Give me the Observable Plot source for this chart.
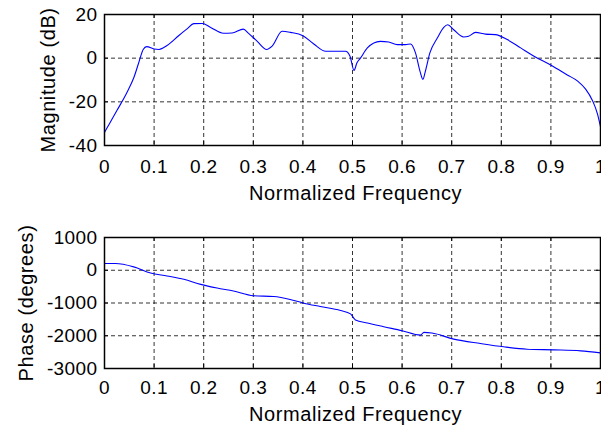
<!DOCTYPE html>
<html>
<head>
<meta charset="utf-8">
<script src="https://cdn.jsdelivr.net/npm/d3@7"></script>
<script src="https://cdn.jsdelivr.net/npm/@observablehq/plot@0.6"></script>
<style>
  html, body { margin: 0; padding: 0; background: white; }
  #chart { width: 601px; height: 430px; overflow: hidden; background: white; }
  #chart svg { display: block; }
  #chart svg text { letter-spacing: 0.4px; }
  #chart svg text.lbl { letter-spacing: 0.6px; }
</style>
</head>
<body>
<div id="chart"></div>
<script>
// ---- data ----
const xTicks = [0, 0.1, 0.2, 0.3, 0.4, 0.5, 0.6, 0.7, 0.8, 0.9, 1];
const xTickLabels = ["0", "0.1", "0.2", "0.3", "0.4", "0.5", "0.6", "0.7", "0.8", "0.9", "1"];
const magTicks = [-40, -20, 0, 20];
const magTickLabels = ["-40", "-20", "0", "20"];
const phaseTicks = [-3000, -2000, -1000, 0, 1000];
const phaseTickLabels = ["-3000", "-2000", "-1000", "0", "1000"];
const xLabel = "Normalized Frequency";
const magLabel = "Magnitude (dB)";
const phaseLabel = "Phase (degrees)";

const magFreq = [0, 0.01, 0.025, 0.045, 0.059, 0.069, 0.078, 0.085, 0.1, 0.11, 0.126, 0.15, 0.167, 0.18, 0.197, 0.214, 0.24, 0.257, 0.28, 0.29, 0.308, 0.327, 0.338, 0.358, 0.375, 0.4, 0.422, 0.446, 0.486, 0.495, 0.503, 0.509, 0.516, 0.53, 0.556, 0.573, 0.59, 0.607, 0.617, 0.627, 0.636, 0.642, 0.647, 0.656, 0.671, 0.684, 0.692, 0.704, 0.724, 0.734, 0.748, 0.768, 0.788, 0.812, 0.839, 0.866, 0.903, 0.933, 0.954, 0.97, 0.984, 0.994, 1.0];
const magDb = [-34, -30, -24, -15.8, -9, -2.1, 4, 5.3, 4.2, 4, 5.8, 10.4, 13.5, 15.8, 15.9, 14.1, 11.4, 11.5, 13.3, 11.5, 7.7, 4, 5.5, 12.3, 11.8, 10.3, 6.5, 3.2, 3.2, 0.9, -5.6, -2.1, 0, 4.7, 7.7, 7.4, 6.2, 6.2, 6.5, 2.4, -5.9, -9.7, -5.9, 2.4, 9.2, 14.1, 15.3, 13, 9.7, 10, 11.8, 11, 10.8, 8.5, 4.7, 0.9, -3.6, -7.7, -10.5, -14.2, -19.5, -25.6, -31.4];

const phaseFreq = [0, 0.022, 0.059, 0.093, 0.126, 0.16, 0.194, 0.227, 0.26, 0.3, 0.341, 0.382, 0.402, 0.435, 0.476, 0.496, 0.506, 0.53, 0.563, 0.6, 0.637, 0.644, 0.66, 0.704, 0.758, 0.805, 0.852, 0.906, 0.96, 1.0];
const phaseDeg = [205, 205, 103, -82, -174, -277, -431, -544, -636, -779, -800, -923, -1005, -1108, -1231, -1333, -1518, -1610, -1723, -1846, -1980, -1897, -1918, -2102, -2236, -2338, -2410, -2430, -2461, -2523];

// ---- tables ----
const magData = magFreq.map((f, i) => ({f, v: magDb[i]}));
const phaseData = phaseFreq.map((f, i) => ({f, v: phaseDeg[i]}));

const FONT = "'Liberation Sans', Arial, Helvetica, sans-serif";
const W = 601, ML = 104, MR = 1;
const innerW = W - ML - MR;

function panel({data, yDomain, yTicks, yLabels, yLabel, height, mt, mb, xPad, xLabDy, yLabDx}) {
  const innerH = height - mt - mb;
  const gridStyle = {stroke: "black", strokeOpacity: 0.8, strokeDasharray: "4,3", strokeWidth: 1};
  const svg = Plot.plot({
    width: W, height,
    marginLeft: ML, marginRight: MR, marginTop: mt, marginBottom: mb,
    style: {fontFamily: FONT, fontSize: "19px", background: "white", color: "black", overflow: "visible"},
    x: {domain: [0, 1]},
    y: {domain: yDomain},
    marks: [
      Plot.gridX(xTicks, gridStyle),
      Plot.gridY(yTicks, gridStyle),
      Plot.tickX(xTicks, {x: d => d, insetTop: innerH - 4, stroke: "black"}),
      Plot.tickX(xTicks, {x: d => d, insetBottom: innerH - 4, stroke: "black"}),
      Plot.tickY(yTicks, {y: d => d, insetRight: innerW - 4, stroke: "black"}),
      Plot.tickY(yTicks, {y: d => d, insetLeft: innerW - 4, stroke: "black"}),
      Plot.line(data, {x: "f", y: "v", stroke: "#0000ff", strokeWidth: 1.1, curve: "monotone-x"}),
      Plot.frame({stroke: "black", strokeWidth: 1.5}),
      Plot.axisX(xTicks, {tickSize: 0, tickPadding: xPad, label: null, fontSize: 19,
        tickFormat: d => xTickLabels[xTicks.indexOf(d)]}),
      Plot.axisY(yTicks, {tickSize: 0, tickPadding: 7, label: null, fontSize: 19,
        tickFormat: d => yLabels[yTicks.indexOf(d)]}),
      Plot.text([xLabel], {text: d => d, frameAnchor: "bottom", dy: xLabDy, dx: 3, fontSize: 20, lineAnchor: "middle", textAnchor: "middle"}),
      Plot.text([yLabel], {text: d => d, frameAnchor: "left", dx: yLabDx, rotate: -90, fontSize: 20, lineAnchor: "middle", textAnchor: "middle"})
    ]
  });
  d3.select(svg).selectAll("text").filter(function() {
    const t = this.textContent; return t === xLabel || t === yLabel;
  }).attr("class", "lbl");
  return svg;
}

const chart = document.getElementById("chart");
chart.appendChild(panel({
  data: magData, yDomain: [-40, 20], yTicks: magTicks, yLabels: magTickLabels, yLabel: magLabel,
  height: 225, mt: 14, mb: 80, xPad: 14, xLabDy: 48, yLabDx: -56
}));
chart.appendChild(panel({
  data: phaseData, yDomain: [-3000, 1000], yTicks: phaseTicks, yLabels: phaseTickLabels, yLabel: phaseLabel,
  height: 205, mt: 12, mb: 62, xPad: 12, xLabDy: 46, yLabDx: -78
}));
</script>
</body>
</html>
